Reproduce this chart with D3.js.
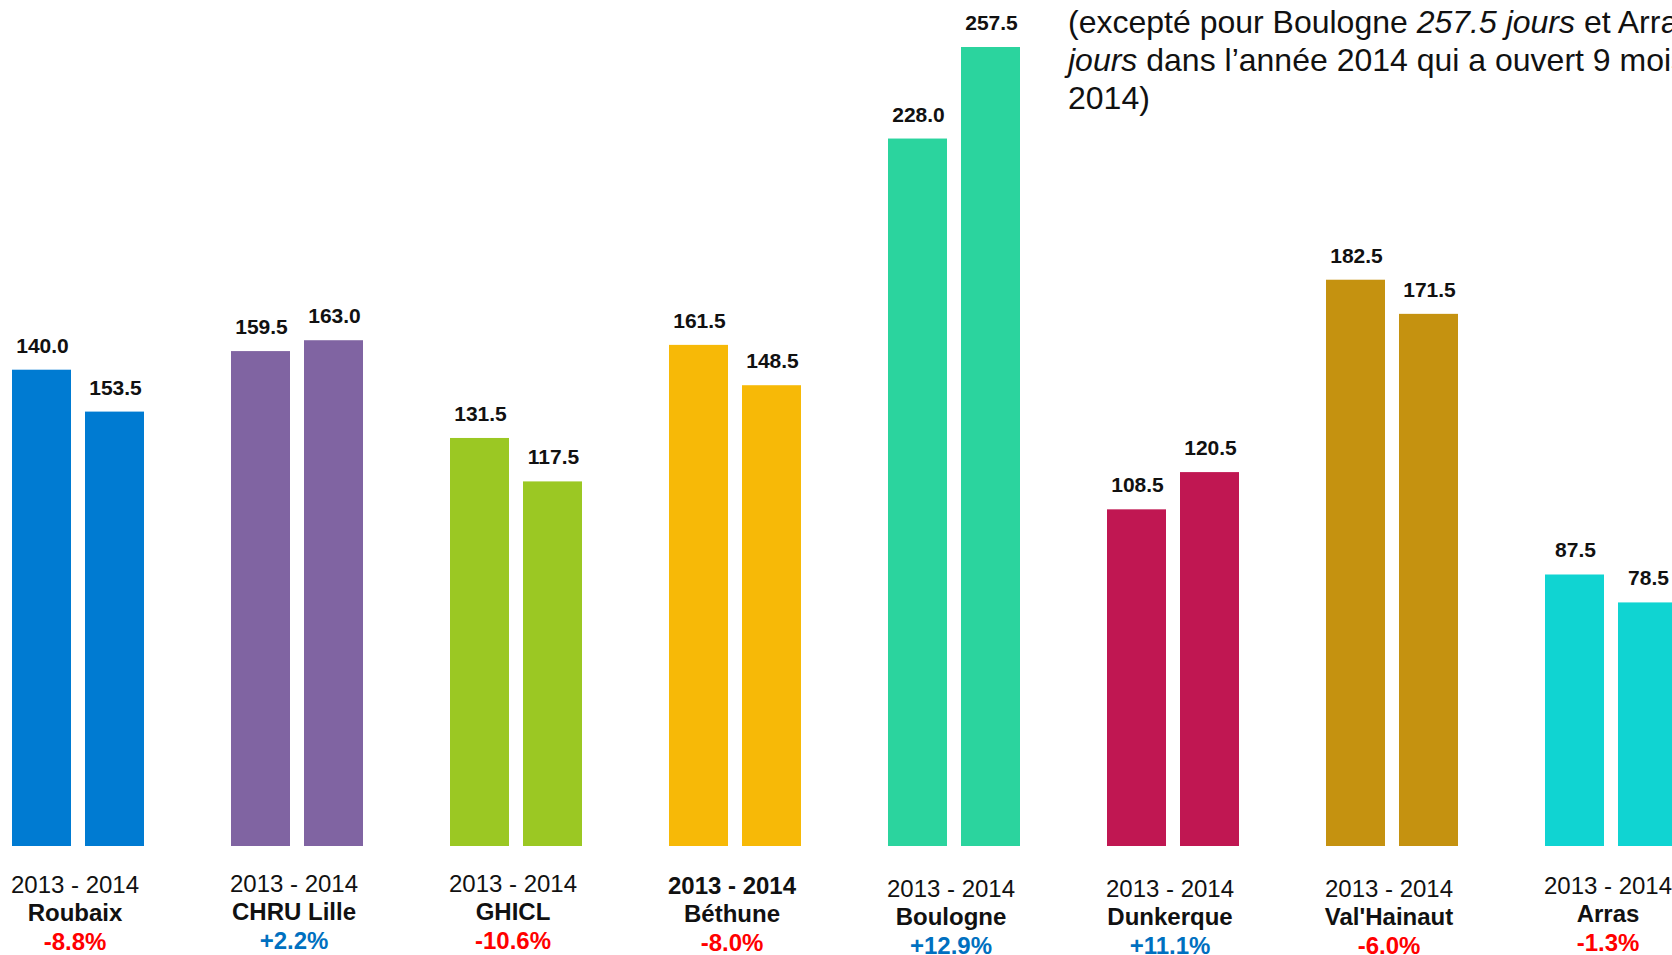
<!DOCTYPE html>
<html>
<head>
<meta charset="utf-8">
<script src="https://cdn.jsdelivr.net/npm/d3@7"></script>
<style>
  body { margin: 0; background: #fff; }
  text { font-family: "Liberation Sans", Arial, sans-serif; }
  .val { font-size: 21px; font-weight: bold; fill: #111; text-anchor: middle; }
  .yr { font-size: 24px; fill: #111; text-anchor: middle; }
  .name { font-size: 24px; font-weight: bold; fill: #111; text-anchor: middle; }
  .pct { font-size: 24px; font-weight: bold; text-anchor: middle; }
  .note { font-size: 32px; fill: #111; }
</style>
</head>
<body>
<div id="chart"></div>
<script>
// data
var sites = ["Roubaix", "CHRU Lille", "GHICL", "Béthune", "Boulogne", "Dunkerque", "Val'Hainaut", "Arras"];
var years = ["2013", "2014"];
// bar heights as drawn
var val2013 = [153.5, 159.5, 131.5, 161.5, 228.0, 108.5, 182.5, 87.5];
var val2014 = [140.0, 163.0, 117.5, 148.5, 257.5, 120.5, 171.5, 78.5];
// value labels as printed
var lbl2013 = ["140.0", "159.5", "131.5", "161.5", "228.0", "108.5", "182.5", "87.5"];
var lbl2014 = ["153.5", "163.0", "117.5", "148.5", "257.5", "120.5", "171.5", "78.5"];
var change = ["-8.8%", "+2.2%", "-10.6%", "-8.0%", "+12.9%", "+11.1%", "-6.0%", "-1.3%"];
var colors = ["#007BD2", "#8064A2", "#9BC823", "#F7B907", "#2BD49E", "#C01752", "#C59210", "#10D4D2"];

// small vertical nudges of the label blocks under each group
var labelNudge = [0, -1, -1, 1, 4, 4, 4, 1];

var width = 1672, height = 955;
var baseY = 846;

var svg = d3.select("#chart").append("svg")
  .attr("width", width)
  .attr("height", height);

// scales
var x0 = d3.scaleBand()
  .domain(sites)
  .range([12, 12 + 219 * (8 - 87 / 219)])
  .paddingInner(87 / 219)
  .paddingOuter(0);

var x1 = d3.scaleBand()
  .domain(years)
  .range([0, x0.bandwidth()])
  .paddingInner(14 / 73);

var y = d3.scaleLinear()
  .domain([0, 257.5])
  .range([baseY, 47]);

var rows = sites.map(function(s, i) {
  return {
    site: s, i: i, color: colors[i],
    bars: [
      { year: "2013", v: val2013[i], lbl: lbl2013[i] },
      { year: "2014", v: val2014[i], lbl: lbl2014[i] }
    ]
  };
});

var groups = svg.append("g").selectAll("g")
  .data(rows)
  .enter()
  .append("g")
  .attr("transform", d => `translate(${x0(d.site)},0)`);

// bars
groups.selectAll("rect")
  .data(d => d.bars.map(b => Object.assign({ color: d.color }, b)))
  .enter()
  .append("rect")
  .attr("x", d => x1(d.year))
  .attr("y", d => y(d.v))
  .attr("width", x1.bandwidth())
  .attr("height", d => baseY - y(d.v))
  .attr("fill", d => d.color);

// value labels
groups.selectAll("text.val")
  .data(d => d.bars)
  .enter()
  .append("text")
  .attr("class", "val")
  .attr("x", d => x1(d.year) + x1.bandwidth() / 2 + 1)
  .attr("y", d => y(d.v) - 17)
  .text(d => d.lbl);

// category labels
var cx = x0.bandwidth() / 2 - 3;
groups.append("text")
  .attr("class", "yr")
  .attr("x", cx)
  .attr("y", d => 893 + labelNudge[d.i])
  .style("font-weight", d => d.site == "Béthune" ? "bold" : null)
  .text("2013 - 2014");

groups.append("text")
  .attr("class", "name")
  .attr("x", cx)
  .attr("y", d => 921 + labelNudge[d.i])
  .text(d => d.site);

groups.append("text")
  .attr("class", "pct")
  .attr("x", cx)
  .attr("y", d => 950 + labelNudge[d.i])
  .attr("fill", d => change[d.i][0] == "-" ? "#FF0000" : "#0070C0")
  .text(d => change[d.i]);

// note at top right
var note = svg.append("text").attr("class", "note");
var l1 = note.append("tspan").attr("x", 1068).attr("y", 33);
l1.append("tspan").text("(excepté pour Boulogne ");
l1.append("tspan").style("font-style", "italic").text("257.5 jours");
l1.append("tspan").text(" et Arras 78.5");
var l2 = note.append("tspan").attr("x", 1068).attr("y", 71);
l2.append("tspan").style("font-style", "italic").text("jours");
l2.append("tspan").text(" dans l’année 2014 qui a ouvert 9 mois en");
note.append("tspan").attr("x", 1068).attr("y", 109).text("2014)");
</script>
</body>
</html>
